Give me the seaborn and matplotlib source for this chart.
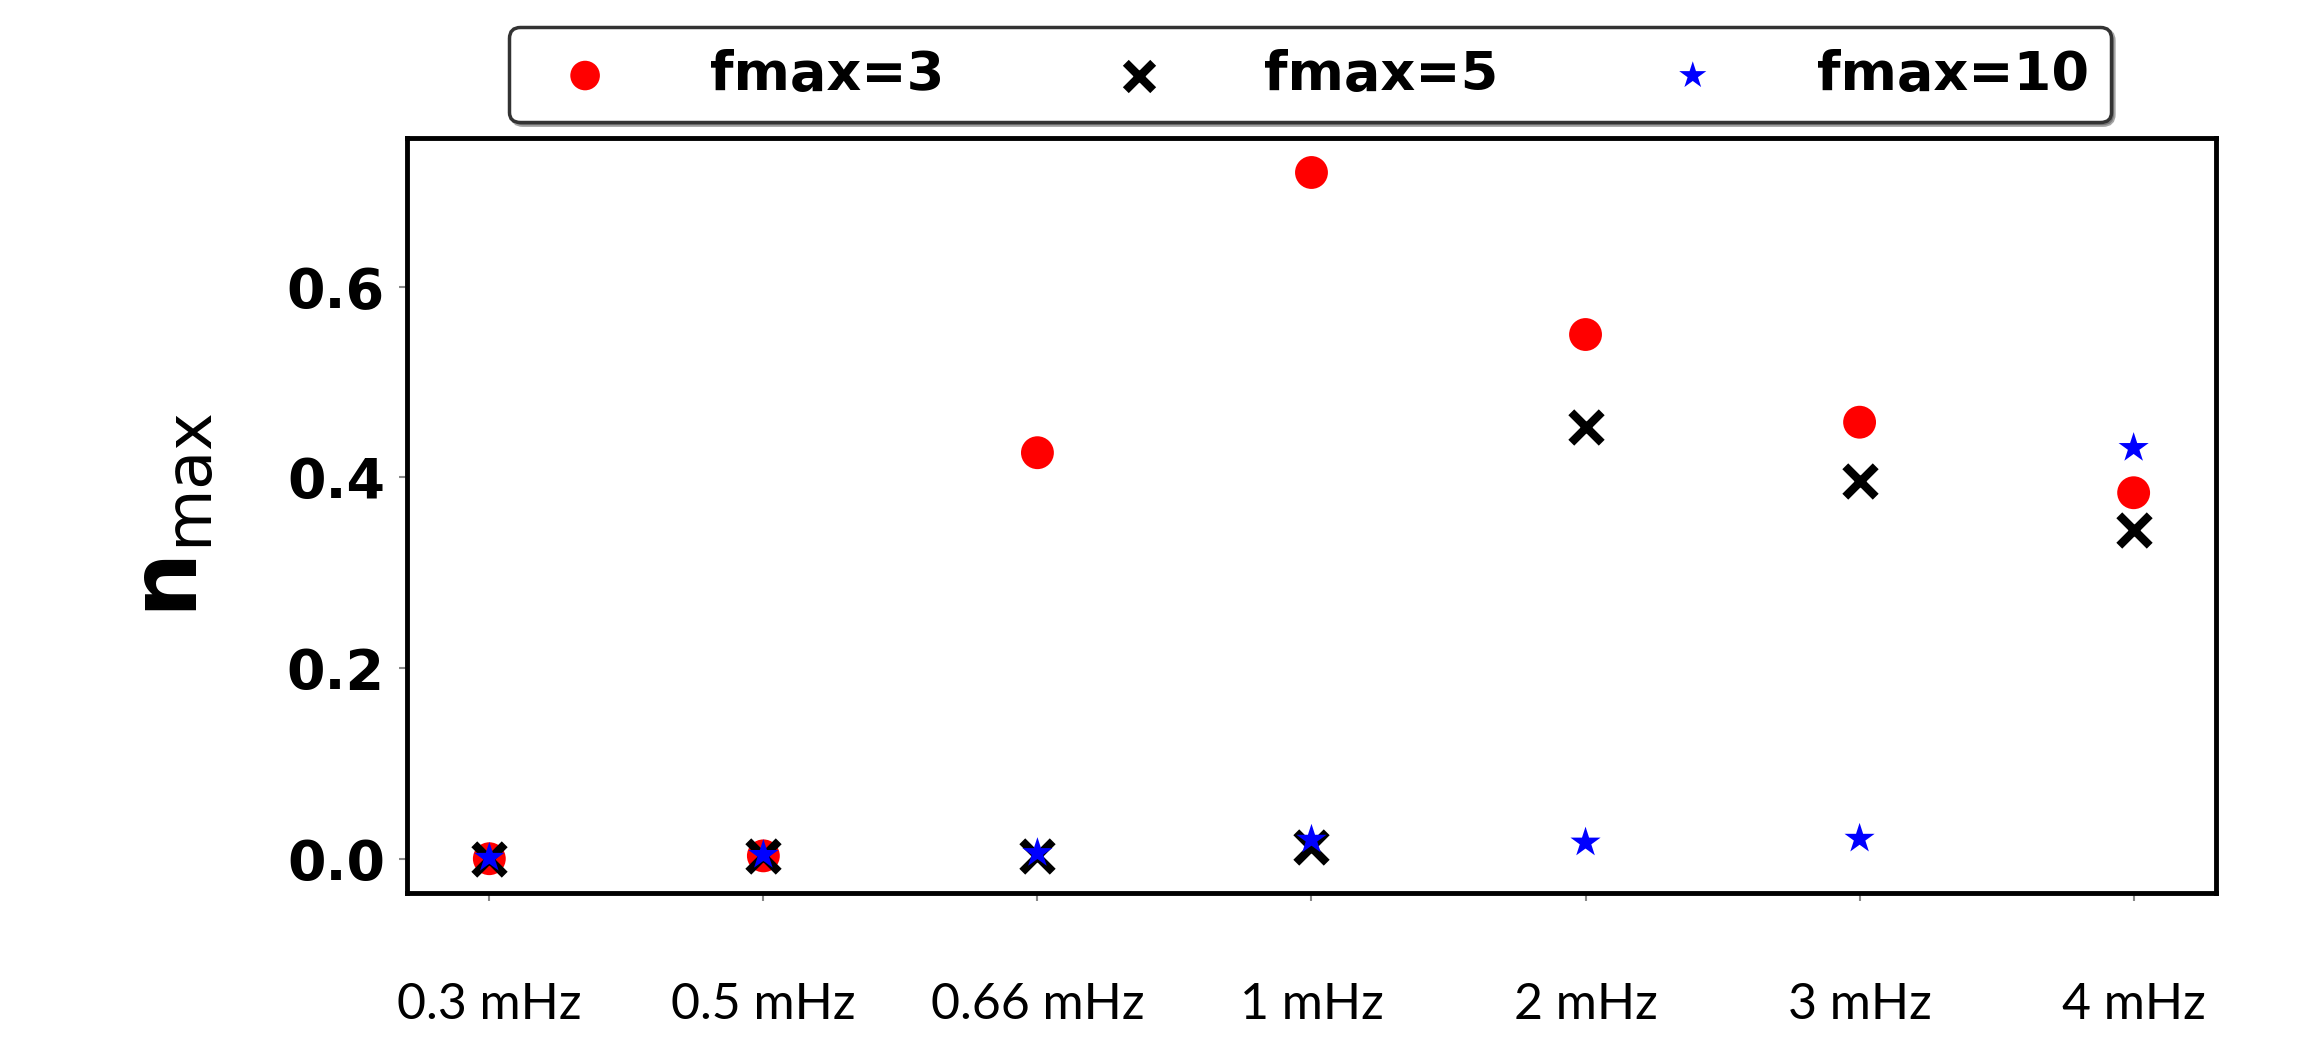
import numpy as np
import pandas as pd
import matplotlib
matplotlib.use("Agg")
import matplotlib.pyplot as plt
import seaborn as sns

categories = ["0.3 mHz", "0.5 mHz", "0.66 mHz", "1 mHz", "2 mHz", "3 mHz", "4 mHz"]
fmax3 = [0.000, 0.003, 0.426, 0.720, 0.550, 0.458, 0.384]
fmax5 = [0.000, 0.003, 0.003, 0.012, 0.453, 0.396, 0.345]
fmax10 = [0.001, 0.004, 0.006, 0.020, 0.017, 0.021, 0.431]

sns.set_theme(style="white")
plt.rcParams['font.family'] = ['DejaVu Sans']
plt.rcParams['text.color'] = 'black'
plt.rcParams['axes.labelcolor'] = 'black'
plt.rcParams['xtick.color'] = 'black'
plt.rcParams['ytick.color'] = 'black'

fig = plt.figure(figsize=(23.21, 10.39), dpi=100)
ax = fig.add_axes([0.1754, 0.1405, 0.7793, 0.7265])

pos = np.arange(len(categories))
sns.scatterplot(x=pos, y=fmax3, ax=ax, marker='o', color='red', s=560,
                edgecolor='none', label='fmax=3', zorder=3)
sns.scatterplot(x=pos, y=fmax5, ax=ax, marker='x', color='black', s=480,
                linewidth=6, label='fmax=5', zorder=4)
sns.scatterplot(x=pos, y=fmax10, ax=ax, marker='*', color='blue', s=520,
                edgecolor='none', label='fmax=10', zorder=5)

ax.set_xlim(-0.3, 6.3)
ax.set_ylim(-0.036, 0.756)
ax.set_xticks(pos)
ax.set_xticklabels(categories, family='Lato', fontsize=36, color='black')
ax.set_yticks([0.0, 0.2, 0.4, 0.6])
ax.set_yticklabels(["0.0", "0.2", "0.4", "0.6"], fontsize=40, fontweight='bold',
                   color='black')
ax.tick_params(axis='both', which='both', direction='out', length=6, width=1.5,
               color='#888888', bottom=True, left=True)
ax.tick_params(axis='x', pad=58)
ax.tick_params(axis='y', pad=10)

for sp in ax.spines.values():
    sp.set_visible(True)
    sp.set_color('black')
    sp.set_linewidth(3.5)

ax.set_ylabel(r'$\mathbf{n}_{\mathrm{max}}$', fontsize=66, labelpad=50, color='black')
ax.set_xlabel('')

ax.get_legend().remove()
h, l = ax.get_legend_handles_labels()
leg = fig.legend(h, l, loc='upper center', bbox_to_anchor=(0.5645, 1.0), ncol=3,
                 prop={'weight': 'bold', 'size': 39}, frameon=True, fancybox=True,
                 shadow=True, handletextpad=1.3, columnspacing=2.6,
                 borderpad=0.4, markerscale=0.9)
leg.get_frame().set_edgecolor('#333333')
leg.get_frame().set_linewidth(2.5)
for t in leg.get_texts():
    t.set_color('black')

fig.savefig('out.png', dpi=100)
